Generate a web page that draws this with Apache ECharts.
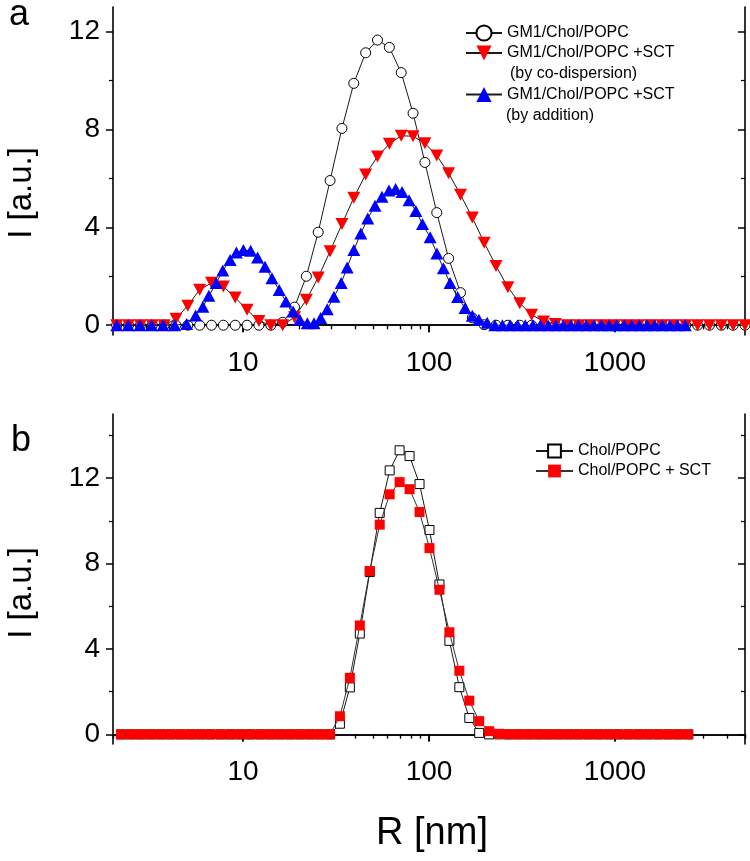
<!DOCTYPE html>
<html>
<head>
<meta charset="utf-8">
<script src="https://cdn.jsdelivr.net/npm/echarts@6/dist/echarts.min.js"></script>
<style>
html,body{margin:0;padding:0;background:#fff;}
#chart{width:750px;height:861px;}
</style>
</head>
<body>
<div id="chart"></div>
<script>
// ---------- DATA ----------
// Panel a: radius grid (nm) shared by GM1/Chol/POPC and +SCT co-dispersion
const gridA_R = [2.094, 2.424, 2.807, 3.251, 3.765, 4.360, 5.049, 5.847, 6.771, 7.842, 9.081, 10.52, 12.18, 14.11, 16.34, 18.92, 21.91, 25.37, 29.38, 34.03, 39.41, 45.64, 52.85, 61.21, 70.88, 82.09, 95.06, 110.1, 127.5, 147.7, 171.0, 198.0, 229.3, 265.6, 307.6, 356.2, 412.5, 477.7, 553.3, 640.7, 742.0, 859.3, 995.0, 1152, 1335, 1546, 1790, 2073, 2401, 2780, 3220, 3728, 4318, 5000];
const gm1_I = [0, 0, 0, 0, 0, 0, 0, 0, 0, 0, 0, 0, 0, 0, 0.12, 0.74, 2.0, 3.8, 5.91, 8.04, 9.88, 11.13, 11.65, 11.35, 10.32, 8.66, 6.65, 4.6, 2.73, 1.33, 0.3, 0.02, 0, 0, 0, 0, 0, 0, 0, 0, 0, 0, 0, 0, 0, 0, 0, 0, 0, 0, 0, 0, 0, 0];
const coDisp_I = [0, 0, 0, 0, 0, 0.26, 0.8, 1.45, 1.73, 1.58, 1.13, 0.63, 0.17, 0, 0, 0.33, 1.04, 1.95, 3.02, 4.13, 5.21, 6.16, 6.89, 7.41, 7.74, 7.72, 7.43, 6.93, 6.21, 5.33, 4.40, 3.37, 2.42, 1.55, 0.90, 0.43, 0.15, 0.05, 0, 0, 0, 0, 0, 0, 0, 0, 0, 0, 0, 0, 0, 0, 0, 0];
// Panel a: +SCT by addition
const addition_R = [2.094, 2.415, 2.790, 3.223, 3.717, 4.294, 4.977, 5.562, 6.085, 6.551, 7.176, 7.785, 8.527, 9.215, 10.05, 10.99, 11.98, 13.13, 14.31, 15.65, 17.00, 18.60, 20.20, 22.18, 24.09, 26.16, 28.38, 30.82, 33.72, 36.31, 39.43, 42.98, 46.85, 51.27, 55.88, 60.91, 66.15, 71.68, 78.13, 84.99, 92.26, 101.4, 110.3, 119.5, 129.8, 142.5, 156.2, 170.9, 185.5, 205.5, 225.9, 248.2, 272.8, 299.6, 329.3, 361.8, 397.6, 436.9, 480.1, 527.6, 579.7, 636.8, 699.8, 768.9, 845.0, 928.4, 1020, 1121, 1232, 1353, 1487, 1634, 1796, 1973, 2168, 2386];
const addition_I = [0, 0, 0, 0, 0, 0, 0.05, 0.4, 0.75, 1.2, 1.72, 2.23, 2.66, 2.97, 3.07, 3.04, 2.77, 2.39, 1.92, 1.44, 0.97, 0.56, 0.22, 0.08, 0.08, 0.29, 0.65, 1.16, 1.72, 2.36, 3.07, 3.75, 4.36, 4.88, 5.25, 5.5, 5.56, 5.44, 5.1, 4.67, 4.13, 3.59, 2.93, 2.33, 1.72, 1.15, 0.7, 0.39, 0.22, 0.1, 0, 0, 0, 0, 0, 0, 0, 0, 0, 0, 0, 0, 0, 0, 0, 0, 0, 0, 0, 0, 0, 0, 0, 0, 0, 0];
// Panel b
const gridB_R = [2.207, 2.497, 2.824, 3.194, 3.613, 4.087, 4.623, 5.229, 5.914, 6.690, 7.567, 8.559, 9.682, 10.95, 12.39, 14.01, 15.85, 17.93, 20.27, 22.93, 25.94, 29.34, 33.19, 37.54, 42.46, 48.03, 54.33, 61.45, 69.51, 78.62, 88.93, 100.6, 113.8, 128.7, 145.6, 164.7, 186.2, 210.7, 238.3, 269.5, 304.8, 344.8, 390.0, 441.1, 499.0, 564.4, 638.4, 722.1, 816.7, 923.8, 1045, 1182, 1337, 1512, 1711, 1935, 2189, 2476];
const chol_I = [0, 0, 0, 0, 0, 0, 0, 0, 0, 0, 0, 0, 0, 0, 0, 0, 0, 0, 0, 0, 0, 0, 0.5, 2.2, 4.72, 7.6, 10.37, 12.36, 13.3, 13.03, 11.72, 9.57, 7.02, 4.38, 2.21, 0.77, 0.07, 0, 0, 0, 0, 0, 0, 0, 0, 0, 0, 0, 0, 0, 0, 0, 0, 0, 0, 0, 0, 0];
const cholSct_I = [0, 0, 0, 0, 0, 0, 0, 0, 0, 0, 0, 0, 0, 0, 0, 0, 0, 0, 0, 0, 0, 0, 0.85, 2.65, 5.1, 7.65, 9.82, 11.24, 11.81, 11.48, 10.41, 8.72, 6.77, 4.78, 2.98, 1.58, 0.62, 0.15, 0.03, 0, 0, 0, 0, 0, 0, 0, 0, 0, 0, 0, 0, 0, 0, 0, 0, 0, 0, 0];
// Ticks
const xMajorTicks = [10, 100, 1000];
const xMinorTicks = [2, 3, 4, 5, 6, 7, 8, 9, 20, 30, 40, 50, 60, 70, 80, 90, 200, 300, 400, 500, 600, 700, 800, 900, 2000, 3000, 4000, 5000];
const yMajorTicks = [0, 4, 8, 12];
const yMinorTicksA = [2, 6, 10];
const yMinorTicksB = [2, 6, 10, 14];
const seriesNames = ['GM1/Chol/POPC', 'GM1/Chol/POPC +SCT (by co-dispersion)', 'GM1/Chol/POPC +SCT (by addition)', 'Chol/POPC', 'Chol/POPC + SCT'];

// ---------- CHART ----------
const FONT = 'Liberation Sans, Arial, sans-serif';
const zip = (xs, ys) => xs.map((x, i) => [x, ys[i]]);
const black = '#000';

const grids = [
  { left: 113, right: 5, top: 7, height: 328 },
  { left: 113, right: 5, top: 414, height: 330 }
];

function xAxesFor(g) {
  const base = {
    type: 'log', logBase: 10, gridIndex: g, min: 2, max: 5000,
    splitLine: { show: false }, minorTick: { show: false }
  };
  return [
    Object.assign({}, base, {
      position: 'bottom',
      axisLine: { show: true, lineStyle: { color: black, width: 1.6 } },
      axisTick: { show: true, inside: false, length: 7, customValues: xMajorTicks, lineStyle: { color: black, width: 1.5 } },
      axisLabel: { show: true, customValues: xMajorTicks, formatter: v => String(Math.round(v)), fontSize: 28, fontFamily: FONT, color: black, margin: 14 }
    }),
    Object.assign({}, base, {
      position: 'bottom',
      axisLine: { show: false },
      axisTick: { show: true, inside: false, length: 4, customValues: xMinorTicks, lineStyle: { color: black, width: 1.2 } },
      axisLabel: { show: false }
    }),
    Object.assign({}, base, {
      position: 'top',
      axisLine: { show: true, lineStyle: { color: black, width: 1.6 } },
      axisTick: { show: true, inside: true, length: 7, customValues: xMajorTicks, lineStyle: { color: black, width: 1.5 } },
      axisLabel: { show: false }
    }),
    Object.assign({}, base, {
      position: 'top',
      axisLine: { show: false },
      axisTick: { show: true, inside: true, length: 4, customValues: xMinorTicks, lineStyle: { color: black, width: 1.2 } },
      axisLabel: { show: false }
    })
  ];
}

function yAxesFor(g, min, max, minor) {
  const base = { type: 'value', gridIndex: g, min: min, max: max, splitLine: { show: false } };
  return [
    Object.assign({}, base, {
      position: 'left',
      axisLine: { show: true, lineStyle: { color: black, width: 1.6 } },
      axisTick: { show: true, inside: false, length: 7, customValues: yMajorTicks, lineStyle: { color: black, width: 1.5 } },
      axisLabel: { show: true, customValues: yMajorTicks, fontSize: 28, fontFamily: FONT, color: black, margin: 13 }
    }),
    Object.assign({}, base, {
      position: 'left',
      axisLine: { show: false },
      axisTick: { show: true, inside: false, length: 4, customValues: minor, lineStyle: { color: black, width: 1.2 } },
      axisLabel: { show: false }
    }),
    Object.assign({}, base, {
      position: 'right',
      axisLine: { show: true, lineStyle: { color: black, width: 1.6 } },
      axisTick: { show: true, inside: true, length: 7, customValues: yMajorTicks, lineStyle: { color: black, width: 1.5 } },
      axisLabel: { show: false }
    }),
    Object.assign({}, base, {
      position: 'right',
      axisLine: { show: false },
      axisTick: { show: true, inside: true, length: 4, customValues: minor, lineStyle: { color: black, width: 1.2 } },
      axisLabel: { show: false }
    })
  ];
}

const downTri = 'path://M0,0 L10,0 L5,9 Z';
const upTri = 'path://M5,0 L10,9 L0,9 Z';
const lineSt = { color: '#1a1a1a', width: 1 };

const series = [
  {
    name: seriesNames[0], type: 'line', xAxisIndex: 0, yAxisIndex: 0,
    data: zip(gridA_R, gm1_I), symbol: 'circle', symbolSize: 10,
    itemStyle: { color: '#fff', borderColor: '#000', borderWidth: 1 },
    lineStyle: lineSt, z: 2
  },
  {
    name: seriesNames[1], type: 'line', xAxisIndex: 0, yAxisIndex: 0,
    data: zip(gridA_R, coDisp_I), symbol: downTri, symbolSize: [13, 12],
    itemStyle: { color: '#ff0000' }, lineStyle: lineSt, z: 3
  },
  {
    name: seriesNames[2], type: 'line', xAxisIndex: 0, yAxisIndex: 0,
    data: zip(addition_R, addition_I), symbol: upTri, symbolSize: [13, 12],
    itemStyle: { color: '#0000ff' }, lineStyle: lineSt, z: 4
  },
  {
    name: seriesNames[3], type: 'line', xAxisIndex: 4, yAxisIndex: 4,
    data: zip(gridB_R, chol_I), symbol: 'rect', symbolSize: 9,
    itemStyle: { color: '#fff', borderColor: '#000', borderWidth: 1 },
    lineStyle: lineSt, z: 2
  },
  {
    name: seriesNames[4], type: 'line', xAxisIndex: 4, yAxisIndex: 4,
    data: zip(gridB_R, cholSct_I), symbol: 'rect', symbolSize: 10,
    itemStyle: { color: '#ff0000' }, lineStyle: { color: '#333', width: 1 }, z: 3
  }
];

const legTxt = { fontSize: 16, fontFamily: FONT, color: black, lineHeight: 18 };
const firstLine = n => n.split(' (')[0];
function leg(name, left, cy, w, h) {
  return {
    data: [name], left: left, top: cy - h / 2, orient: 'vertical', padding: 0,
    itemWidth: w, itemHeight: h, selectedMode: false, formatter: firstLine,
    textStyle: legTxt
  };
}

const option = {
  animation: false,
  backgroundColor: '#fff',
  grid: grids,
  xAxis: xAxesFor(0).concat(xAxesFor(1)),
  yAxis: yAxesFor(0, -0.4, 13, yMinorTicksA).concat(yAxesFor(1, -0.45, 15, yMinorTicksB)),
  legend: [
    leg(seriesNames[0], 465, 33.5, 36, 19),
    leg(seriesNames[1], 465, 53.5, 36, 19),
    leg(seriesNames[2], 465, 95, 36, 19),
    leg(seriesNames[3], 535, 450, 37, 16),
    leg(seriesNames[4], 535, 470, 37, 16)
  ],
  graphic: [
    { type: 'text', x: 510, y: 74, style: { text: '(by co-dispersion)', fontSize: 16, fontFamily: FONT, fill: black, verticalAlign: 'middle' } },
    { type: 'text', x: 506, y: 116, style: { text: '(by addition)', fontSize: 16, fontFamily: FONT, fill: black, verticalAlign: 'middle' } },
    { type: 'text', x: 22, y: 193, rotation: Math.PI / 2, style: { text: 'I [a.u.]', fontSize: 33, fontFamily: FONT, fill: black, align: 'center', verticalAlign: 'middle' } },
    { type: 'text', x: 22, y: 593, rotation: Math.PI / 2, style: { text: 'I [a.u.]', fontSize: 33, fontFamily: FONT, fill: black, align: 'center', verticalAlign: 'middle' } },
    { type: 'text', x: 432, y: 834, style: { text: 'R [nm]', fontSize: 38, fontFamily: FONT, fill: black, align: 'center', verticalAlign: 'middle' } },
    { type: 'text', x: 19, y: 15, style: { text: 'a', fontSize: 36, fontFamily: FONT, fill: black, align: 'center', verticalAlign: 'middle' } },
    { type: 'text', x: 21, y: 441, style: { text: 'b', fontSize: 36, fontFamily: FONT, fill: black, align: 'center', verticalAlign: 'middle' } }
  ],
  series: series
};

const chart = echarts.init(document.getElementById('chart'), null, { renderer: 'canvas' });
chart.setOption(option);
</script>
</body>
</html>
